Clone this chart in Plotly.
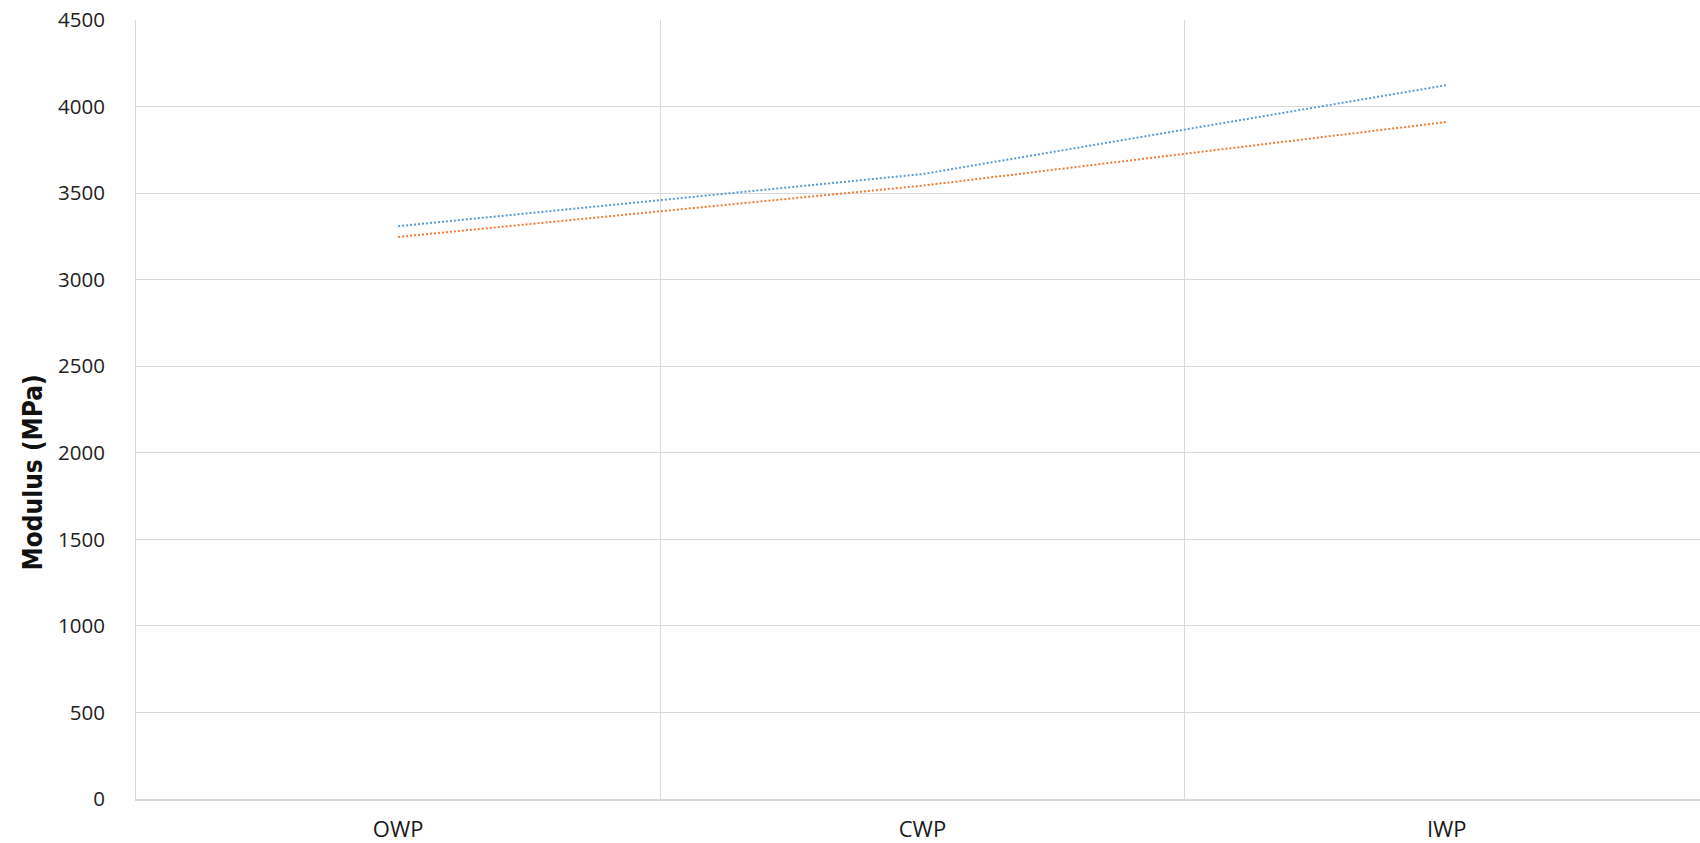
import plotly.graph_objects as go

# Wall-position categories and modulus values (MPa)
categories = ["OWP", "CWP", "IWP"]
series_a = [3309, 3610, 4124]
series_b = [3247, 3543, 3911]
y_ticks = [0, 500, 1000, 1500, 2000, 2500, 3000, 3500, 4000, 4500]

fig = go.Figure()
fig.add_trace(go.Scatter(
    x=categories, y=series_a, mode="lines",
    line=dict(color="#5B9BD5", width=2, dash="2px,2px"),
    showlegend=False,
))
fig.add_trace(go.Scatter(
    x=categories, y=series_b, mode="lines",
    line=dict(color="#ED7D31", width=2, dash="2px,2px"),
    showlegend=False,
))

fig.update_layout(
    width=1700, height=843,
    margin=dict(l=136, r=0, t=20, b=40),
    paper_bgcolor="white", plot_bgcolor="white",
    font=dict(family="Open Sans", color="#222222"),
)
fig.update_xaxes(
    type="category",
    range=[-0.5, 2.483],
    tickson="boundaries",
    showgrid=True, gridcolor="#d9d9d9", gridwidth=1,
    showline=True, linecolor="#d9d9d9", linewidth=2,
    ticks="", tickfont=dict(size=22, color="#1a1a1a"),
    ticklabelstandoff=10,
)
fig.update_yaxes(
    range=[0, 4500],
    tickvals=y_ticks,
    showgrid=True, gridcolor="#d9d9d9", gridwidth=1,
    showline=True, linecolor="#d9d9d9", linewidth=1,
    zeroline=False,
    ticks="", tickfont=dict(size=20.5, color="#222222"),
    ticklabelstandoff=26,
)

# Y-axis title, placed as a rotated annotation
fig.add_annotation(
    text="<b>Modulus (MPa)</b>",
    xref="paper", yref="paper",
    x=0, y=0.419, xanchor="center", yanchor="middle",
    xshift=-103, textangle=-90, showarrow=False,
    font=dict(family="Liberation Sans Narrow, DejaVu Sans Condensed, Open Sans",
              size=26, color="#111111"),
)

fig.write_html("out.html")
